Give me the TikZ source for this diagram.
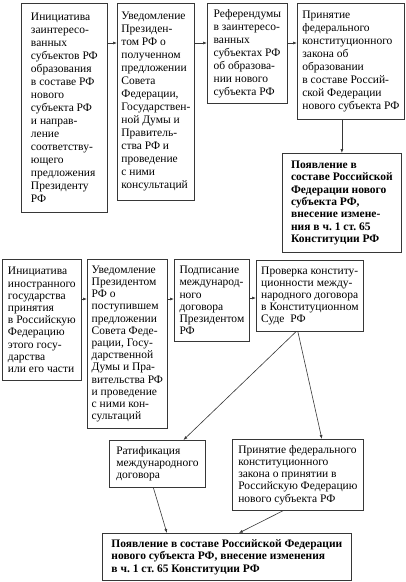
\documentclass[tikz,border=0pt]{standalone}
\usepackage{fontspec}
\setmainfont{Liberation Serif}
\usetikzlibrary{arrows.meta, positioning}
\usepackage{xcolor}
\definecolor{lineGray}{RGB}{55,55,55}
\frenchspacing

\begin{document}
\begin{tikzpicture}[
    x=1pt, y=-1pt,
    box/.style={rectangle, draw=lineGray, line width=0.8pt, anchor=north west, align=left, inner xsep=3pt, inner ysep=2pt, font=\fontsize{11.5}{13}\selectfont},
    boxlow/.style={box, font=\fontsize{11.5}{12.2}\selectfont},
    boxbold/.style={box, font=\bfseries\fontsize{11.5}{12.4}\selectfont},
    link/.style={->, draw=lineGray, line width=0.6pt},
    >={Latex[length=4pt,width=3pt]}
]
\useasboundingbox (0,0) rectangle (405,582);

\node[box, minimum width=86pt, minimum height=209pt] (ini1) at (21,3) {Инициатива\\заинтересо-\\ванных\\субъектов РФ\\образования\\в составе РФ\\нового\\субъекта РФ\\и направ-\\ление\\соответству-\\ющего\\предложения\\Президенту\\РФ};
\node[box, minimum width=77pt, minimum height=197pt] (not1) at (117,3) {Уведомление\\Президен-\\том РФ о\\полученном\\предложении\\Совета\\Федерации,\\Государствен-\\ной Думы и\\Правитель-\\ства РФ и\\проведение\\с ними\\консультаций};
\node[box, minimum width=80pt, minimum height=100pt] (ref1) at (207,3) {Референдумы\\в заинтересо-\\ванных\\субъектах РФ\\об образова-\\нии нового\\субъекта РФ};
\node[box, minimum width=107pt, minimum height=116pt] (law1) at (297,3) {Принятие\\федерального\\конституционного\\закона об\\образовании\\в составе Россий-\\ской Федерации\\нового субъекта РФ};
\node[boxbold, minimum width=119pt, minimum height=99pt] (res1) at (282,153) {Появление в\\составе Российской\\Федерации нового\\субъекта РФ,\\внесение измене-\\ния в ч. 1 ст. 65\\Конституции РФ};

\node[boxlow, minimum width=79pt, minimum height=121pt] (ini2) at (2,259) {Инициатива\\иностранного\\государства\\принятия\\в Российскую\\Федерацию\\этого госу-\\дарства\\или его части};
\node[boxlow, minimum width=80pt, minimum height=169pt] (not2) at (87,259) {Уведомление\\Президентом\\РФ о\\поступившем\\предложении\\Совета Феде-\\рации, Госу-\\дарственной\\Думы и Пра-\\вительства РФ\\и проведение\\с ними кон-\\сультаций};
\node[boxlow, minimum width=75pt, minimum height=82pt] (sign2) at (174,259) {Подписание\\международ-\\ного\\договора\\Президентом\\РФ};
\node[boxlow, minimum width=107pt, minimum height=71pt] (chk2) at (256,260) {Проверка конститу-\\ционности между-\\народного договора\\в Конституционном\\Суде~~РФ};
\node[boxlow, minimum width=96pt, minimum height=47pt] (rat2) at (109,440) {Ратификация\\международного\\договора};
\node[boxlow, minimum width=131pt, minimum height=71pt] (law2) at (232,439) {Принятие федерального\\конституционного\\закона о принятии в\\Российскую Федерацию\\нового субъекта РФ};
\node[boxbold, minimum width=249pt, minimum height=47pt] (res2) at (102,533) {Появление в составе Российской Федерации\\нового субъекта РФ, внесение изменения\\в ч. 1 ст. 65 Конституции РФ};

\draw[link] ([yshift=-40pt]ini1.north east) -- ([yshift=-40pt]not1.north west);
\draw[link] ([yshift=-40pt]not1.north east) -- ([yshift=-40pt]ref1.north west);
\draw[link] ([yshift=-40pt]ref1.north east) -- ([yshift=-40pt]law1.north west);
\draw[link] (law1.south -| res1.north) -- (res1.north);

\draw[link] ([yshift=-40pt]ini2.north east) -- ([yshift=-40pt]not2.north west);
\draw[link] ([yshift=-40pt]not2.north east) -- ([yshift=-40pt]sign2.north west);
\draw[link] ([yshift=-39pt]sign2.north east) -- ([yshift=-38pt]chk2.north west);
\draw[link] ([xshift=-14pt]chk2.south) -- ([xshift=26pt]rat2.north);
\draw[link] ([xshift=-12pt]chk2.south) -- ([xshift=24pt]law2.north);
\draw[link] ([xshift=-4pt]rat2.south) -- ([xshift=-60pt]res2.north);
\draw[link] ([xshift=-15pt]law2.south) -- ([xshift=12pt]res2.north);
\end{tikzpicture}
\end{document}
